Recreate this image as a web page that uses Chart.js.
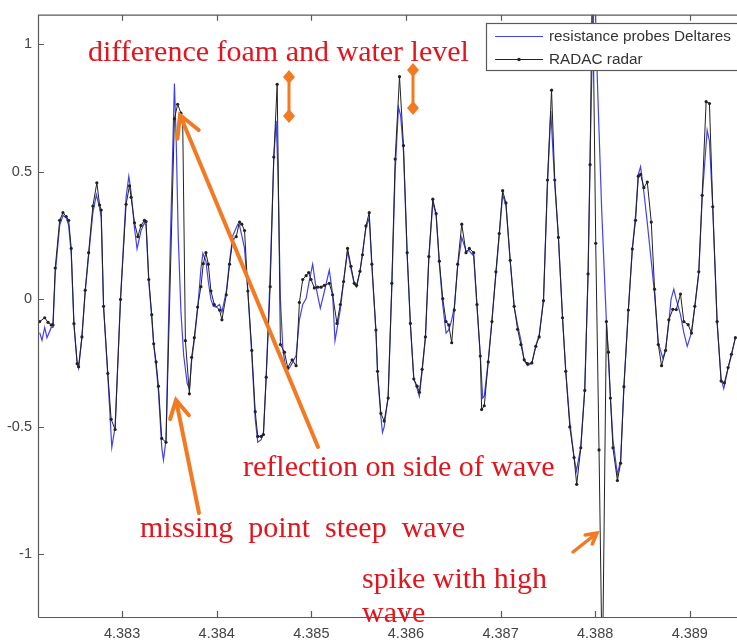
<!DOCTYPE html>
<html>
<head>
<meta charset="utf-8">
<script src="https://cdn.jsdelivr.net/npm/chart.js@4.4.0/dist/chart.umd.min.js"></script>
<style>
  html, body { margin: 0; padding: 0; background: #fff; overflow: hidden; }
  #wrap { width: 760px; height: 641px; }
</style>
</head>
<body>
<div id="wrap"><canvas id="myChart" width="760" height="641"></canvas></div>
<script>
// RADAC radar samples (time as on the axis, level)
const radarTime = [
  4.382129, 4.382182, 4.382217, 4.382251, 4.382269, 4.382293, 4.382340, 4.382375, 4.382409, 4.382435,
  4.382462, 4.382491, 4.382525, 4.382540, 4.382575, 4.382610, 4.382646, 4.382691, 4.382733, 4.382762,
  4.382779, 4.382804, 4.382849, 4.382884, 4.382926, 4.382983, 4.383042, 4.383078, 4.383095, 4.383131,
  4.383166, 4.383200, 4.383236, 4.383253, 4.383282, 4.383313, 4.383334, 4.383359, 4.383384, 4.383419,
  4.383464, 4.383553, 4.383587, 4.383622, 4.383640, 4.383669, 4.383711, 4.383735, 4.383763, 4.383798,
  4.383833, 4.383858, 4.383886, 4.383911, 4.383939, 4.383974,
  4.384030, 4.384055, 4.384101, 4.384136, 4.384170, 4.384206, 4.384241, 4.384265, 4.384294, 4.384329,
  4.384371, 4.384407, 4.384434, 4.384470, 4.384494, 4.384523, 4.384565, 4.384603, 4.384639, 4.384673,
  4.384716, 4.384750, 4.384797, 4.384839, 4.384874, 4.384909, 4.384945, 4.384972, 4.384997, 4.385032,
  4.385067, 4.385103, 4.385137, 4.385190, 4.385225, 4.385271, 4.385306, 4.385341, 4.385383, 4.385419,
  4.385454, 4.385478, 4.385514, 4.385541, 4.385577, 4.385612, 4.385640, 4.385683, 4.385700, 4.385735,
  4.385770, 4.385812,
  4.385851, 4.385886, 4.385932, 4.385974, 4.386013, 4.386047, 4.386083, 4.386118, 4.386142, 4.386171,
  4.386206, 4.386242, 4.386284, 4.386319, 4.386353, 4.386389, 4.386424, 4.386452, 4.386484, 4.386511,
  4.386547, 4.386590, 4.386635, 4.386670, 4.386716, 4.386751, 4.386786, 4.386800, 4.386828, 4.386870,
  4.386909, 4.386951, 4.386986, 4.387022, 4.387057, 4.387102, 4.387144, 4.387180, 4.387215, 4.387250,
  4.387285, 4.387331, 4.387373, 4.387408, 4.387454, 4.387496, 4.387539, 4.387573,
  4.387612, 4.387655, 4.387689, 4.387732, 4.387777, 4.387805, 4.387848, 4.387890, 4.387925, 4.387946,
  4.387971, 4.388006, 4.388041, 4.388076, 4.388119, 4.388140, 4.388161, 4.388188, 4.388235, 4.388269,
  4.388304, 4.388351, 4.388393, 4.388427, 4.388456, 4.388480, 4.388515, 4.388551, 4.388593, 4.388628,
  4.388667, 4.388702, 4.388744, 4.388779, 4.388821, 4.388857, 4.388902, 4.388937, 4.388983, 4.389018,
  4.389053, 4.389095, 4.389131, 4.389173, 4.389208, 4.389243, 4.389289, 4.389331, 4.389366, 4.389405,
  4.389440, 4.389482
];
const radarLevel = [
  -0.087, -0.072, -0.09, -0.10, -0.10, 0.123, 0.31, 0.34, 0.325, 0.31,
  0.20, -0.095, -0.252, -0.264, -0.147, 0.036, 0.183, 0.366, 0.457, 0.37,
  0.35, -0.027, -0.29, -0.47, -0.51, 0.0, 0.373, 0.445, 0.40, 0.30,
  0.246, 0.29, 0.31, 0.305, 0.078, -0.06, -0.174, -0.245, -0.34, -0.545,
  -0.56, 0.708, 0.765, 0.73, 0.708, -0.162, -0.37, -0.227, -0.15, -0.03,
  0.05, 0.14, 0.183, 0.138, 0.033, -0.02,
  -0.042, -0.08, 0.018, 0.138, 0.235, 0.246, 0.303, 0.295, 0.27, 0.033,
  -0.2, -0.44, -0.537, -0.537, -0.53, -0.305, 0.05, 0.558, 0.843, -0.177,
  -0.207, -0.267, -0.237, -0.26, -0.012, 0.078, 0.093, 0.105, 0.078, 0.045,
  0.048, 0.048, 0.055, 0.063, 0.018, -0.094, -0.02, 0.07, 0.20, 0.13,
  0.063, 0.055, 0.11, 0.175, 0.288, 0.34, 0.138, -0.12, -0.282, -0.447,
  -0.477, -0.387,
  0.063, 0.55, 0.873, 0.603, 0.183, -0.094, -0.312, -0.34, -0.364, -0.274,
  -0.147, 0.168, 0.393, 0.336, 0.15, 0.003, -0.087, -0.1, -0.17, -0.042,
  0.138, 0.295, 0.183, 0.20, 0.183, -0.02, -0.222, -0.432, -0.417, -0.245,
  -0.087, 0.108, 0.258, 0.426, 0.378, 0.153, -0.027, -0.117, -0.177, -0.237,
  -0.252, -0.249, -0.184, -0.147, -0.005, 0.468, 0.82, 0.468,
  0.243, -0.072, -0.282, -0.5, -0.62, -0.725, -0.582, -0.357, 0.1, 0.528,
  1.3, 0.22, -0.59, -1.5, -0.087, -0.207, -0.387, -0.582, -0.71, -0.642,
  -0.342, -0.042, 0.198, 0.31, 0.483, 0.49, 0.438, 0.46, 0.303, 0.04,
  -0.177, -0.26, -0.2, -0.08, -0.039, -0.04, 0.021, -0.087, -0.099, -0.132,
  -0.027, 0.108, 0.408, 0.775, 0.768, 0.363, -0.087, -0.32, -0.327, -0.267,
  -0.215, -0.15
];

// resistance probes (Deltares)
const probeTime = [
  4.382129, 4.382153, 4.382182, 4.382206, 4.382251, 4.382269, 4.382293, 4.382340, 4.382375, 4.382409,
  4.382435, 4.382462, 4.382491, 4.382525, 4.382540, 4.382575, 4.382610, 4.382646, 4.382691, 4.382728,
  4.382762, 4.382779, 4.382804, 4.382849, 4.382891, 4.382926, 4.382983, 4.383042, 4.383071, 4.383095,
  4.383131, 4.383158, 4.383200, 4.383236, 4.383253, 4.383282, 4.383313, 4.383334, 4.383359, 4.383384,
  4.383419, 4.383437, 4.383464, 4.383508, 4.383553, 4.383572, 4.383593, 4.383622, 4.383651, 4.383688,
  4.383711, 4.383735, 4.383763, 4.383798, 4.383833, 4.383854, 4.383886, 4.383911, 4.383939, 4.383964,
  4.383993, 4.384030, 4.384055, 4.384101, 4.384136, 4.384170, 4.384223, 4.384241, 4.384265, 4.384294,
  4.384329, 4.384371, 4.384407, 4.384434, 4.384470, 4.384494, 4.384523, 4.384565, 4.384603, 4.384628,
  4.384647, 4.384673, 4.384700, 4.384726, 4.384758, 4.384797, 4.384839, 4.384874, 4.384909, 4.384945,
  4.384972, 4.385014, 4.385048, 4.385095, 4.385137, 4.385190, 4.385225, 4.385250, 4.385306, 4.385341,
  4.385383, 4.385419, 4.385454, 4.385478, 4.385514, 4.385541, 4.385577, 4.385612, 4.385640, 4.385683,
  4.385700, 4.385735, 4.385752, 4.385770, 4.385812, 4.385851, 4.385886, 4.385921, 4.385944, 4.385974,
  4.386013, 4.386047, 4.386083, 4.386118, 4.386142, 4.386171, 4.386206, 4.386242, 4.386284, 4.386319,
  4.386353, 4.386389, 4.386424, 4.386452, 4.386484, 4.386511, 4.386547, 4.386590, 4.386635, 4.386670,
  4.386716, 4.386751, 4.386786, 4.386811, 4.386828, 4.386870, 4.386909, 4.386951, 4.386986, 4.387022,
  4.387057, 4.387102, 4.387144, 4.387180, 4.387215, 4.387250, 4.387285, 4.387331, 4.387373, 4.387408,
  4.387454, 4.387496, 4.387531, 4.387573, 4.387612, 4.387655, 4.387689, 4.387732, 4.387777, 4.387802,
  4.387848, 4.387890, 4.387925, 4.387946, 4.387971, 4.387990, 4.388024, 4.388069, 4.388119, 4.388161,
  4.388188, 4.388235, 4.388269, 4.388304, 4.388351, 4.388393, 4.388427, 4.388456, 4.388480, 4.388515,
  4.388551, 4.388593, 4.388628, 4.388667, 4.388715, 4.388744, 4.388779, 4.388802, 4.388831, 4.388857,
  4.388902, 4.388937, 4.388973, 4.389018, 4.389053, 4.389095, 4.389131, 4.389184, 4.389208, 4.389243,
  4.389289, 4.389331, 4.389359, 4.389405, 4.389440, 4.389482
];
const probeLevel = [
  -0.13, -0.16, -0.11, -0.15, -0.11, -0.11, 0.10, 0.29, 0.33, 0.32,
  0.29, 0.18, -0.10, -0.25, -0.27, -0.15, 0.03, 0.17, 0.34, 0.41,
  0.36, 0.32, -0.03, -0.30, -0.58, -0.50, 0.0, 0.40, 0.483, 0.42,
  0.28, 0.198, 0.27, 0.30, 0.29, 0.07, -0.07, -0.18, -0.26, -0.36,
  -0.58, -0.63, -0.55, 0.2, 0.846, 0.62, 0.25, -0.05, -0.22, -0.33,
  -0.35, -0.24, -0.16, -0.04, 0.12, 0.18, 0.15, 0.07, 0.0, -0.027,
  -0.03, -0.02, -0.05, 0.03, 0.15, 0.25, 0.295, 0.29, 0.25, 0.2,
  0.03, -0.22, -0.47, -0.56, -0.55, -0.52, -0.3, 0.1, 0.55, 0.70,
  0.5, 0.0, -0.2, -0.26, -0.275, -0.25, -0.22, -0.08, -0.02, 0.003,
  0.06, 0.138, 0.05, -0.035, 0.03, 0.115, 0.02, -0.162, -0.04, 0.07,
  0.19, 0.12, 0.06, 0.048, 0.11, 0.183, 0.28, 0.32, 0.13, -0.13,
  -0.29, -0.46, -0.522, -0.50, -0.38, 0.05, 0.50, 0.753, 0.72, 0.58,
  0.17, -0.10, -0.31, -0.35, -0.38, -0.28, -0.15, 0.16, 0.38, 0.33,
  0.14, -0.02, -0.132, -0.12, -0.08, -0.03, 0.13, 0.243, 0.19, 0.19,
  0.17, -0.03, -0.22, -0.387, -0.38, -0.24, -0.08, 0.10, 0.25, 0.41,
  0.37, 0.15, -0.03, -0.10, -0.16, -0.24, -0.26, -0.25, -0.18, -0.14,
  0.0, 0.45, 0.738, 0.45, 0.24, -0.07, -0.28, -0.48, -0.62, -0.672,
  -0.58, -0.35, 0.10, 0.55, 1.0, 1.3, 0.85, 0.35, -0.09, -0.38,
  -0.55, -0.687, -0.63, -0.34, -0.04, 0.20, 0.33, 0.49, 0.52, 0.42,
  0.30, 0.15, 0.02, -0.17, -0.23, -0.20, -0.09, 0.0, 0.04, 0.0,
  -0.06, -0.13, -0.184, -0.13, -0.03, 0.10, 0.40, 0.663, 0.62, 0.36,
  -0.09, -0.31, -0.35, -0.27, -0.22, -0.15
];

const xTicks = [4.383, 4.384, 4.385, 4.386, 4.387, 4.388, 4.389];
const yTicks = [-1, -0.5, 0, 0.5, 1];
const seriesNames = ['resistance probes Deltares', 'RADAC radar'];

const PROBE_COLOR = 'rgba(45,45,235,0.9)';
const RADAR_COLOR = '#222';
const AXIS_COLOR = '#5a5a5a';
const RED = '#e3141c';
const ORANGE = '#f27a22';

function toPoints(t, v) {
  return t.map(function (x, i) { return { x: x, y: v[i] }; });
}

// white page + matlab style box with inward ticks
const frame = {
  id: 'frame',
  beforeDraw(chart) {
    const ctx = chart.ctx;
    ctx.save();
    ctx.fillStyle = '#fff';
    ctx.fillRect(0, 0, chart.width, chart.height);
    ctx.restore();
  },
  afterDatasetsDraw(chart) {
    const { ctx, chartArea: a, scales: { x, y } } = chart;
    ctx.save();
    ctx.strokeStyle = AXIS_COLOR;
    ctx.lineWidth = 1.2;
    ctx.beginPath();
    ctx.moveTo(a.left + 0.5, a.bottom + 0.5);
    ctx.lineTo(a.left + 0.5, a.top + 0.5);
    ctx.lineTo(a.right, a.top + 0.5);
    ctx.moveTo(a.left + 0.5, a.bottom + 0.5);
    ctx.lineTo(a.right, a.bottom + 0.5);
    xTicks.forEach(function (v) {
      const px = Math.round(x.getPixelForValue(v)) + 0.5;
      ctx.moveTo(px, a.bottom);
      ctx.lineTo(px, a.bottom - 6);
      ctx.moveTo(px, a.top);
      ctx.lineTo(px, a.top + 6);
    });
    yTicks.forEach(function (v) {
      const py = Math.round(y.getPixelForValue(v)) + 0.5;
      ctx.moveTo(a.left, py);
      ctx.lineTo(a.left + 6, py);
    });
    ctx.stroke();
    ctx.restore();
  }
};

function arrow(ctx, x1, y1, x2, y2, head, w) {
  const ang = Math.atan2(y2 - y1, x2 - x1);
  ctx.lineWidth = w;
  ctx.beginPath();
  ctx.moveTo(x1, y1);
  ctx.lineTo(x2, y2);
  ctx.moveTo(x2 - head * Math.cos(ang - 0.5), y2 - head * Math.sin(ang - 0.5));
  ctx.lineTo(x2, y2);
  ctx.lineTo(x2 - head * Math.cos(ang + 0.5), y2 - head * Math.sin(ang + 0.5));
  ctx.stroke();
}

function diamond(ctx, cx, cy) {
  ctx.beginPath();
  ctx.moveTo(cx, cy - 7);
  ctx.lineTo(cx + 6, cy);
  ctx.lineTo(cx, cy + 7);
  ctx.lineTo(cx - 6, cy);
  ctx.closePath();
  ctx.fill();
}

// legend box and the red/orange notes on top of the plot
const notes = {
  id: 'notes',
  afterDraw(chart) {
    const ctx = chart.ctx;
    ctx.save();

    // legend
    ctx.fillStyle = '#fff';
    ctx.fillRect(486, 23, 300, 47);
    ctx.strokeStyle = AXIS_COLOR;
    ctx.lineWidth = 1.2;
    ctx.strokeRect(486.5, 23.5, 300, 47);
    ctx.lineWidth = 1.2;
    ctx.strokeStyle = PROBE_COLOR;
    ctx.beginPath(); ctx.moveTo(495, 36.5); ctx.lineTo(543, 36.5); ctx.stroke();
    ctx.strokeStyle = RADAR_COLOR;
    ctx.beginPath(); ctx.moveTo(495, 59.5); ctx.lineTo(543, 59.5); ctx.stroke();
    ctx.fillStyle = RADAR_COLOR;
    ctx.beginPath(); ctx.arc(519, 59.5, 1.8, 0, Math.PI * 2); ctx.fill();
    ctx.fillStyle = '#333';
    ctx.font = '15.3px "Liberation Sans", Arial, sans-serif';
    ctx.textBaseline = 'middle';
    ctx.fillText(seriesNames[0], 549, 37);
    ctx.fillText(seriesNames[1], 549, 60);

    // orange arrows
    ctx.strokeStyle = ORANGE;
    ctx.fillStyle = ORANGE;
    ctx.lineCap = 'round';
    arrow(ctx, 318, 447, 180, 115, 24, 4);
    arrow(ctx, 199, 513, 176, 400, 20, 4);
    arrow(ctx, 573, 552, 597, 533, 12, 3.5);
    ctx.lineWidth = 3;
    ctx.beginPath(); ctx.moveTo(289, 78); ctx.lineTo(289, 115); ctx.stroke();
    diamond(ctx, 289, 77);
    diamond(ctx, 289, 116);
    ctx.beginPath(); ctx.moveTo(413, 71); ctx.lineTo(413, 107); ctx.stroke();
    diamond(ctx, 413, 70);
    diamond(ctx, 413, 108);

    // red notes
    ctx.fillStyle = RED;
    ctx.font = '30px "Liberation Serif", "Times New Roman", serif';
    ctx.textBaseline = 'alphabetic';
    ctx.fillText('difference foam and water level', 88, 61);
    ctx.fillText('reflection on side of wave', 243, 476);
    ctx.fillText('missing  point  steep  wave', 140, 537);
    ctx.fillText('spike with high', 362, 588);
    ctx.fillText('wave', 362, 622);
    ctx.restore();
  }
};

const ctx = document.getElementById('myChart').getContext('2d');
const myChart = new Chart(ctx, {
  type: 'line',
  data: {
    datasets: [
      {
        label: seriesNames[0],
        data: toPoints(probeTime, probeLevel),
        borderColor: PROBE_COLOR,
        borderWidth: 1.2,
        pointRadius: 0,
        tension: 0,
        order: 1
      },
      {
        label: seriesNames[1],
        data: toPoints(radarTime, radarLevel),
        borderColor: RADAR_COLOR,
        borderWidth: 1,
        pointRadius: 1.6,
        pointBorderWidth: 0,
        pointBackgroundColor: RADAR_COLOR,
        tension: 0,
        order: 0
      }
    ]
  },
  options: {
    responsive: false,
    animation: false,
    layout: { padding: { top: 12, right: 2.3, left: 0, bottom: 0 } },
    plugins: {
      legend: { display: false },
      tooltip: { enabled: false }
    },
    scales: {
      x: {
        type: 'linear',
        min: 4.382111,
        max: 4.3897,
        afterBuildTicks: function (s) { s.ticks = xTicks.map(function (v) { return { value: v }; }); },
        afterFit: function (s) { s.height = 24; },
        grid: { display: false, drawTicks: false },
        border: { display: false },
        ticks: {
          padding: 8,
          color: '#444',
          font: { family: '"Liberation Sans", Arial, sans-serif', size: 14.5 },
          maxRotation: 0,
          callback: function (v) { return v.toFixed(3); }
        }
      },
      y: {
        min: -1.245,
        max: 1.116,
        afterBuildTicks: function (s) { s.ticks = yTicks.map(function (v) { return { value: v }; }); },
        afterFit: function (s) { s.width = 38; },
        grid: { display: false, drawTicks: false },
        border: { display: false },
        ticks: {
          padding: 6,
          color: '#444',
          font: { family: '"Liberation Sans", Arial, sans-serif', size: 14.5 },
          callback: function (v) { return String(v); }
        }
      }
    }
  },
  plugins: [frame, notes]
});
</script>
</body>
</html>
